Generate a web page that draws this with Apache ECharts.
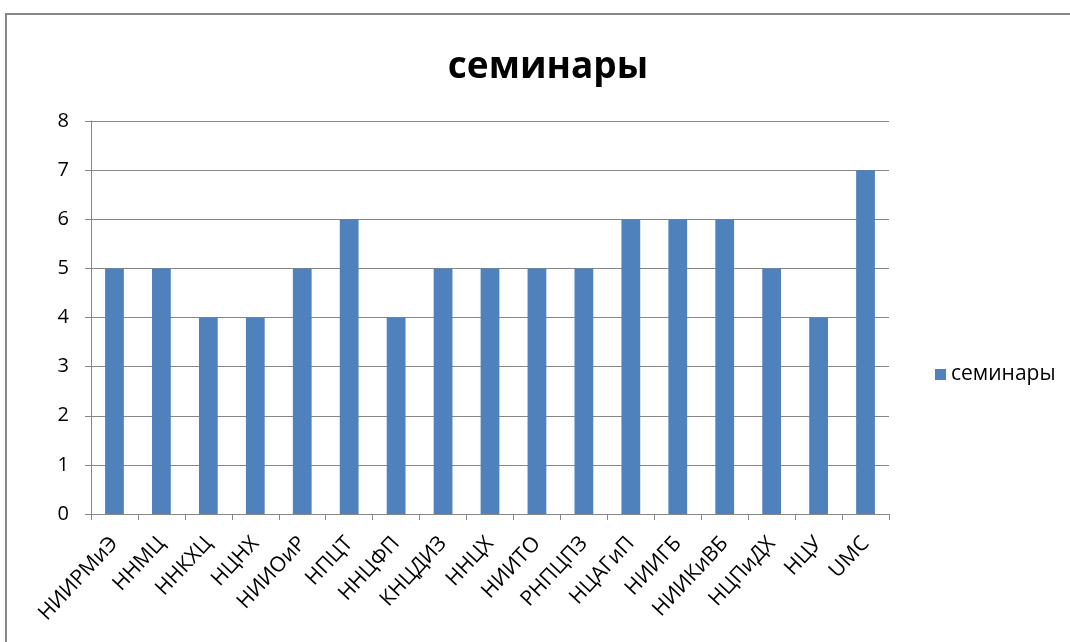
<!DOCTYPE html>
<html>
<head>
<meta charset="utf-8">
<script src="https://cdn.jsdelivr.net/npm/echarts@6/dist/echarts.min.js"></script>
<style>
  html, body { margin: 0; padding: 0; background: #fff; }
  #main { width: 1070px; height: 642px; }
</style>
</head>
<body>
<div id="main"></div>
<script>
var categories = ['НИИРМиЭ', 'ННМЦ', 'ННКХЦ', 'НЦНХ', 'НИИОиР', 'НПЦТ', 'ННЦФП', 'КНЦДИЗ', 'ННЦХ',
  'НИИТО', 'РНПЦПЗ', 'НЦАГиП', 'НИИГБ', 'НИИКиВБ', 'НЦПиДХ', 'НЦУ', 'UMC'];
var seminars = [5, 5, 4, 4, 5, 6, 4, 5, 5, 5, 5, 6, 6, 6, 5, 4, 7];
var seriesName = 'семинары';

echarts.init(document.getElementById('main')).setOption({
  animation: false,
  graphic: [{
    type: 'rect',
    shape: {x: 6, y: 14, width: 1200, height: 800},
    style: {fill: 'none', stroke: '#878787', lineWidth: 2}
  }],
  title: {
    text: seriesName,
    left: 543, top: 44, textAlign: 'center',
    textStyle: {fontFamily: 'Open Sans', fontWeight: 'bold', fontSize: 37, color: '#000'}
  },
  legend: {
    data: [seriesName],
    left: 930, top: 359,
    itemWidth: 11, itemHeight: 11, icon: 'rect', itemGap: 8,
    textStyle: {fontFamily: 'Open Sans', fontSize: 21, color: '#000'}
  },
  grid: {left: 91, right: 181, top: 121, bottom: 128},
  xAxis: {
    type: 'category',
    data: categories,
    axisLine: {lineStyle: {color: '#868686'}},
    axisTick: {show: true, length: 6, lineStyle: {color: '#868686'}},
    axisLabel: {rotate: 47, fontFamily: 'Open Sans', fontSize: 21, color: '#000', margin: 26, interval: 0}
  },
  yAxis: {
    type: 'value',
    min: 0, max: 8, interval: 1,
    axisLine: {show: true, lineStyle: {color: '#868686'}},
    axisTick: {show: true, inside: false, length: 6, lineStyle: {color: '#868686'}},
    splitLine: {lineStyle: {color: '#868686'}},
    axisLabel: {fontFamily: 'Open Sans', fontSize: 20, color: '#000', margin: 22}
  },
  series: [{
    name: seriesName,
    type: 'bar',
    data: seminars,
    barWidth: '40%',
    itemStyle: {color: '#4F81BD'}
  }]
});
</script>
</body>
</html>
